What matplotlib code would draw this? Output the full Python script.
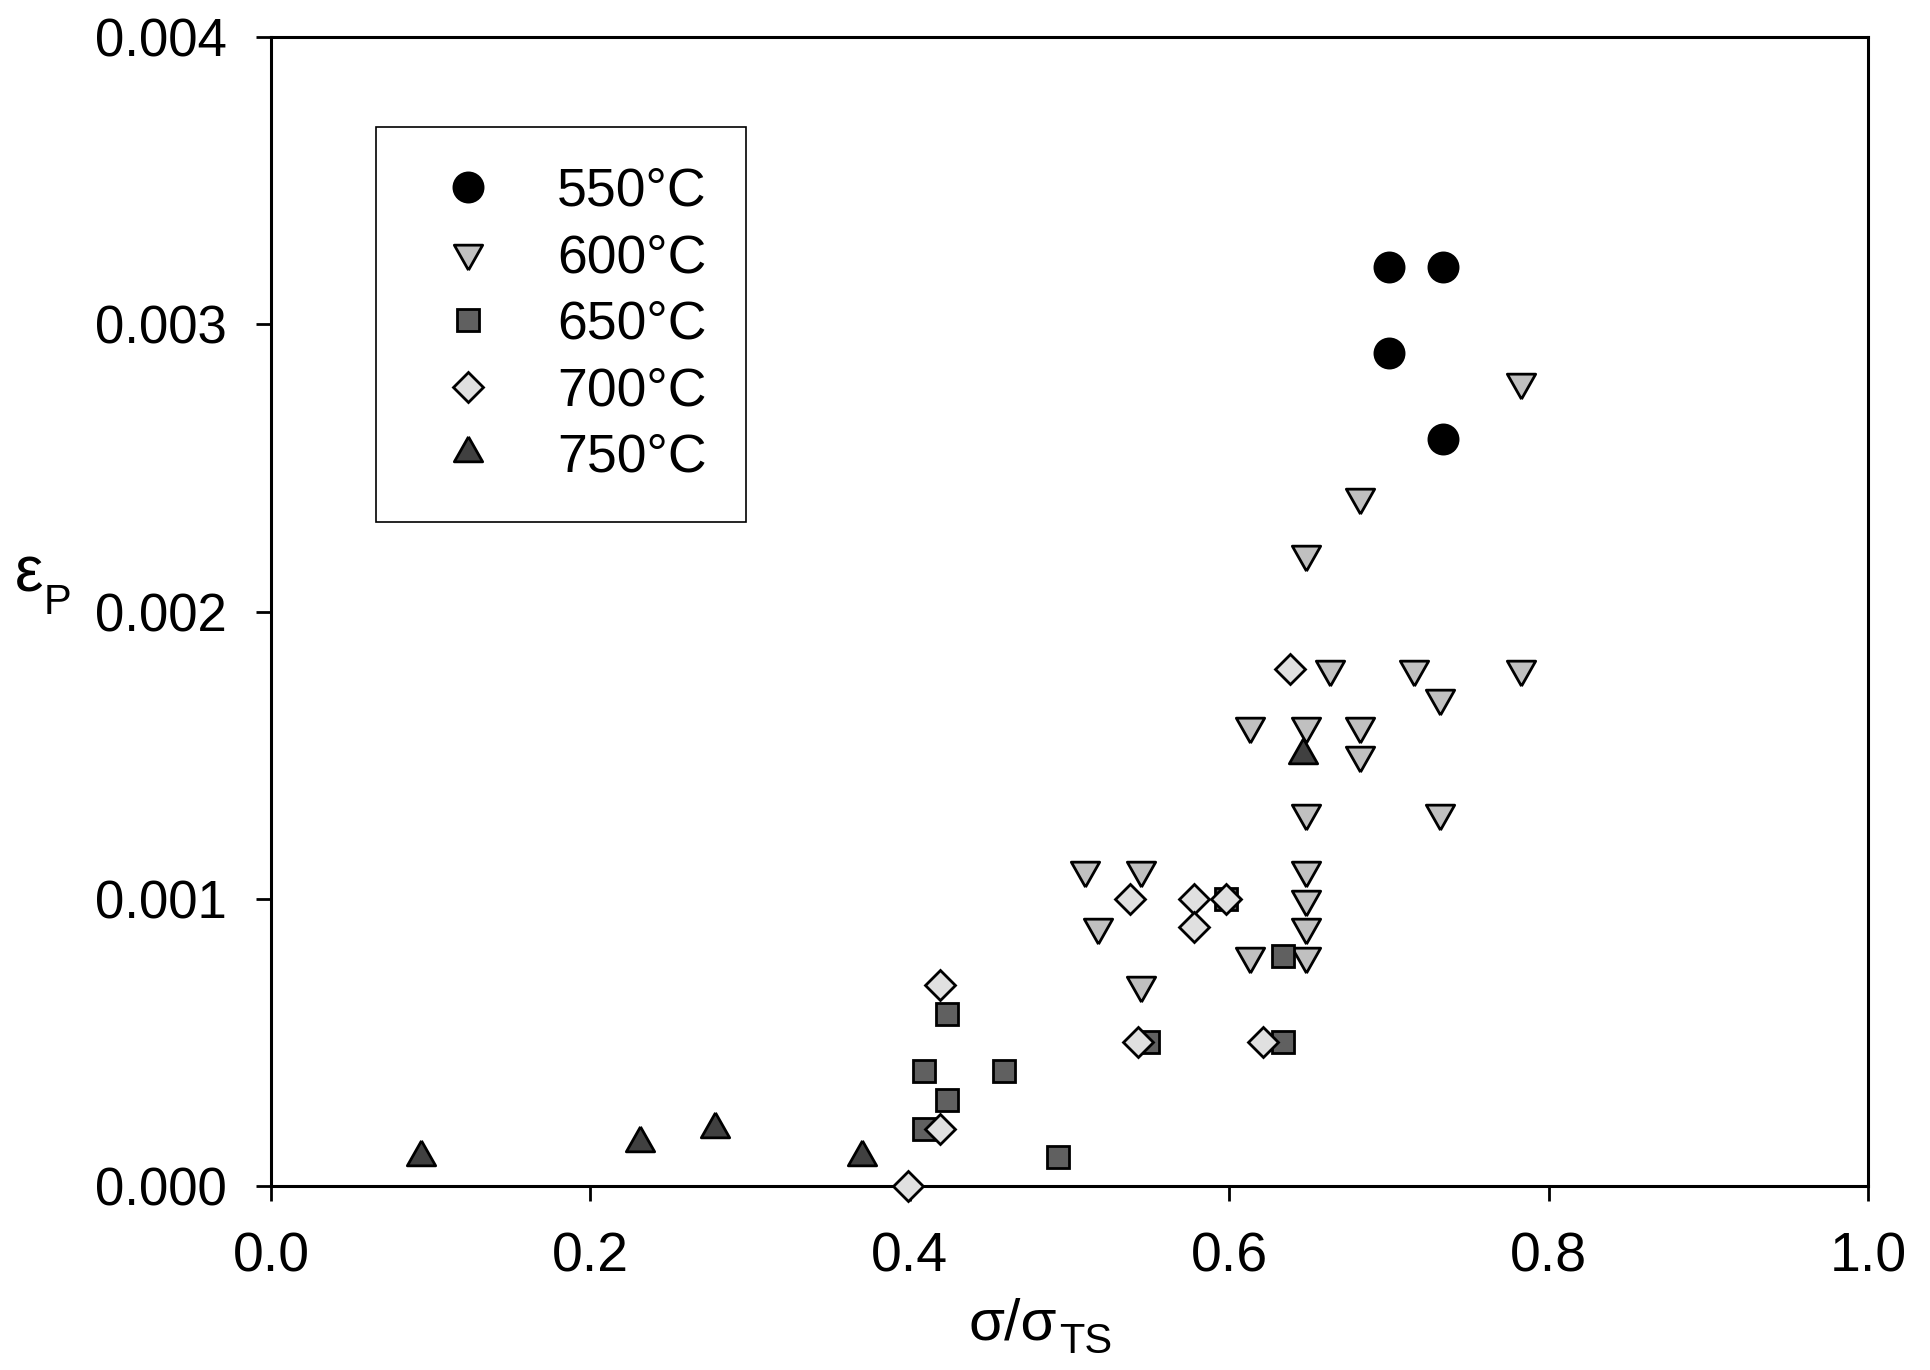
import matplotlib
matplotlib.use("Agg")
import matplotlib.pyplot as plt
from matplotlib import font_manager

# ---------------- data ----------------
t550_x = [0.700, 0.734, 0.700, 0.734]
t550_y = [0.0032, 0.0032, 0.0029, 0.0026]

t600_x = [0.783, 0.682, 0.648, 0.663, 0.716, 0.783, 0.732, 0.613, 0.648, 0.682, 0.682,
          0.648, 0.732, 0.510, 0.545, 0.648, 0.648, 0.518, 0.648, 0.613, 0.648, 0.545]
t600_y = [0.0028, 0.0024, 0.0022, 0.0018, 0.0018, 0.0018, 0.0017, 0.0016, 0.0016, 0.0016, 0.0015,
          0.0013, 0.0013, 0.0011, 0.0011, 0.0011, 0.0010, 0.0009, 0.0009, 0.0008, 0.0008, 0.0007]

t650_x = [0.598, 0.634, 0.634, 0.549, 0.423, 0.409, 0.459, 0.423, 0.409, 0.493]
t650_y = [0.0010, 0.0008, 0.0005, 0.0005, 0.0006, 0.0004, 0.0004, 0.0003, 0.0002, 0.0001]

t700_x = [0.638, 0.538, 0.578, 0.598, 0.578, 0.419, 0.543, 0.621, 0.419, 0.399]
t700_y = [0.0018, 0.0010, 0.0010, 0.0010, 0.0009, 0.0007, 0.0005, 0.0005, 0.0002, 0.0000]

t750_x = [0.094, 0.231, 0.278, 0.370, 0.646]
t750_y = [0.0001, 0.00015, 0.0002, 0.0001, 0.0015]

labels = ["550°C", "600°C", "650°C", "700°C", "750°C"]
x_ticks = [0.0, 0.2, 0.4, 0.6, 0.8, 1.0]
y_ticks = [0.000, 0.001, 0.002, 0.003, 0.004]

# ---------------- fonts ----------------
names = {f.name for f in font_manager.fontManager.ttflist}
base_font = "Liberation Sans" if "Liberation Sans" in names else "DejaVu Sans"
plt.rcParams["font.family"] = [base_font, "DejaVu Sans"]

# triangle markers positioned by centroid
h = 1.5
w = 1.7
up_tri = [(0, 2 * h / 3), (-w / 2, -h / 3), (w / 2, -h / 3), (0, 2 * h / 3)]
dn_tri = [(x, -y) for x, y in up_tri]

fig = plt.figure(figsize=(19.31, 13.70), dpi=100)
ax = fig.add_axes([271 / 1931, 1 - 1186 / 1370, (1868 - 271) / 1931, (1186 - 37) / 1370])

mew = 2.0
series = [
    (t550_x, t550_y, "o", 21.0, "#000000", labels[0]),
    (t600_x, t600_y, dn_tri, 24.0, "#c0c0c0", labels[1]),
    (t650_x, t650_y, "s", 16.5, "#606060", labels[2]),
    (t700_x, t700_y, "D", 15.5, "#e0e0e0", labels[3]),
    (t750_x, t750_y, up_tri, 24.0, "#404040", labels[4]),
]
handles = []
for xs, ys, m, ms, fc, lab in series:
    ln, = ax.plot(xs, ys, linestyle="none", marker=m, markersize=ms,
                  markerfacecolor=fc, markeredgecolor="black", markeredgewidth=mew,
                  label=lab, clip_on=False, zorder=3)
    handles.append(ln)

ax.set_xlim(0, 1.0)
ax.set_ylim(0, 0.004)
ax.set_xticks(x_ticks)
ax.set_yticks(y_ticks)
ax.set_xticklabels([f"{v:.1f}" for v in x_ticks], fontsize=40)
ax.set_yticklabels([f"{v:.3f}" for v in y_ticks], fontsize=38)
ax.tick_params(axis="both", direction="out", length=10.8, width=2.0,
               top=False, right=False)
ax.tick_params(axis="y", pad=21)
ax.tick_params(axis="x", pad=22)
for s in ax.spines.values():
    s.set_linewidth(2.2)

# axis titles
fig.text(15 / 1931, 1 - 592 / 1370, "ε", fontsize=46, ha="left", va="baseline")
fig.text(44 / 1931, 1 - 614 / 1370, "P", fontsize=30, ha="left", va="baseline")
t1 = fig.text(969 / 1931, 1 - 1340 / 1370, "σ/σ", fontsize=42, ha="left", va="baseline")
ax.annotate("TS", xy=(1, 0), xycoords=t1, xytext=(1, -1), textcoords="offset points",
            fontsize=30, ha="left", va="baseline", annotation_clip=False)

leg = ax.legend(handles=handles, loc="upper left",
                bbox_to_anchor=(376 / 1931, 1 - 127 / 1370), bbox_transform=fig.transFigure,
                borderaxespad=0, frameon=True, fancybox=False, edgecolor="black",
                fontsize=38.5, borderpad=0.74, labelspacing=0.31, handlelength=1.95,
                handletextpad=0.7, numpoints=1, framealpha=1)
leg.get_frame().set_linewidth(1.2)

fig.savefig("out.png", dpi=100)
